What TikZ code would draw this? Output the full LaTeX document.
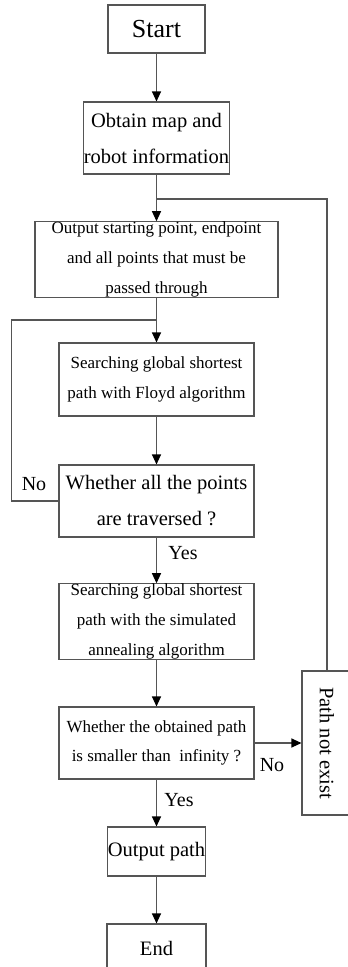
\documentclass[tikz,border=0pt]{standalone}
\usepackage{fontspec}
\setmainfont{Liberation Serif}
\usetikzlibrary{arrows.meta}
\definecolor{linegray}{HTML}{555555}
\begin{document}
\begin{tikzpicture}[x=1pt,y=-1pt,
  box/.style={draw=linegray,line width=1.1pt,inner sep=0pt,align=center,minimum width=195pt,minimum height=73pt},
  big/.style={font=\fontsize{20.5}{36}\selectfont},
  small/.style={font=\fontsize{17}{30}\selectfont},
  flow/.style={draw=linegray,line width=1.1pt,-{Triangle[length=10pt,width=9pt,color=black]}},
  link/.style={draw=linegray,line width=1.1pt},
  lab/.style={font=\fontsize{20}{24}\selectfont,inner sep=0pt}]
\useasboundingbox (0,0) rectangle (348,967);
\node[box,big,font=\fontsize{26}{30}\selectfont,minimum width=97pt,minimum height=48pt] (start) at (156.5,29) {Start};
\node[box,big,minimum width=145pt,minimum height=72pt] (obtain) at (156.5,138) {Obtain map and\\robot information};
\node[box,small,minimum width=243pt] (points) at (156.5,259.5) {Output starting point, endpoint\\and all points that must be\\passed through};
\node[box,small] (floyd) at (156.5,379.5) {Searching global shortest\\path with Floyd algorithm};
\node[box,big,minimum height=72pt] (allpts) at (156.5,501) {Whether all the points\\are traversed ?};
\node[box,small] (anneal) at (156.5,621.5) {Searching global shortest\\path with the simulated\\annealing algorithm};
\node[box,font=\fontsize{17}{29}\selectfont,minimum height=72pt] (finite) at (156.5,743) {Whether the obtained path\\is smaller than~~infinity ?};
\node[box,big,rotate=-90,minimum width=144pt,minimum height=50pt] (nopath) at (327,743) {Path not exist};
\node[box,big,minimum width=97pt,minimum height=49pt] (outpath) at (156.5,851.5) {Output path};
\node[box,big,minimum width=99pt,minimum height=49pt] (finish) at (156.5,948.5) {End};
\coordinate (j1) at (156.5,199);
\coordinate (j2) at (156.5,320);
\draw[flow] (start) -- (obtain);
\draw[flow] (obtain) -- (points);
\draw[link] (nopath.west) |- (j1);
\draw[flow] (points) -- (floyd);
\draw[link] (allpts.west) -- ++(-47,0) |- (j2);
\draw[flow] (floyd) -- (allpts);
\draw[flow] (allpts) -- (anneal);
\draw[flow] (anneal) -- (finite);
\draw[flow] (finite.east) -- (nopath.south);
\draw[flow] (finite) -- (outpath);
\draw[flow] (outpath) -- (finish);
\node[lab] (no1) at (34,484) {No};
\node[lab] (yes1) at (183,553) {Yes};
\node[lab] (no2) at (272,765) {No};
\node[lab] (yes2) at (179,800) {Yes};
\end{tikzpicture}
\end{document}
